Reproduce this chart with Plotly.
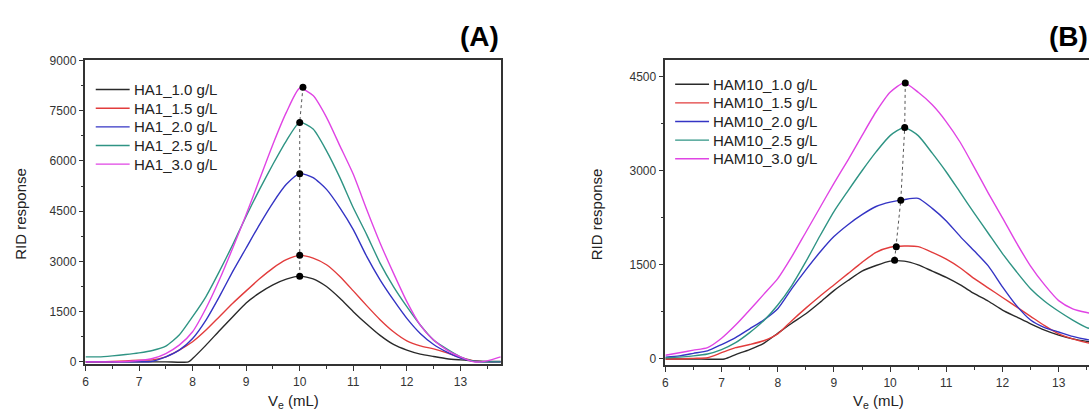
import plotly.graph_objects as go

# ---- panel A : HA1 ----
xa = [6.0, 6.25, 6.5, 6.75, 7.0, 7.25, 7.5, 7.75, 8.0, 8.25, 8.5, 8.75, 9.0, 9.25, 9.5, 9.75,
      10.0, 10.25, 10.5, 10.75, 11.0, 11.25, 11.5, 11.75, 12.0, 12.25, 12.5, 12.75, 13.0, 13.25, 13.5, 13.75]
xa_black = [6.0, 6.5, 7.0, 7.5, 7.92, 8.0, 8.25, 8.5, 8.75, 9.0, 9.25, 9.5, 9.75,
            10.0, 10.25, 10.5, 10.75, 11.0, 11.25, 11.5, 11.75, 12.0, 12.25, 12.5, 12.75, 13.0, 13.25, 13.5, 13.75]
ha1_10 = [0, 0, 0, 0, 0, 100, 500, 930, 1350, 1760, 2060, 2300, 2470,
          2560, 2480, 2250, 1900, 1500, 1130, 790, 520, 350, 230, 160, 95, 60, 30, 15, 10]
ha1_15 = [0, 0, 10, 30, 50, 60, 150, 350, 600, 950, 1350, 1750, 2120, 2480, 2800, 3050,
          3180, 3100, 2900, 2550, 2120, 1680, 1260, 900, 630, 480, 390, 270, 130, 30, 0, 0]
ha1_20 = [0, 0, 0, 0, 0, 20, 150, 350, 700, 1250, 1950, 2700, 3400, 4100, 4750, 5300,
          5620, 5500, 5150, 4600, 3950, 3150, 2450, 1850, 1300, 850, 520, 290, 110, 20, 0, 0]
ha1_25 = [150, 150, 180, 220, 270, 340, 470, 800, 1350, 1950, 2700, 3500, 4350, 5150, 5900, 6600,
          7150, 6950, 6300, 5500, 4600, 3800, 2950, 2250, 1650, 1100, 650, 380, 150, 20, 0, 0]
ha1_30 = [0, 0, 0, 10, 40, 100, 250, 500, 900, 1600, 2450, 3400, 4400, 5450, 6500, 7450,
          8170, 7950, 7300, 6450, 5600, 4550, 3550, 2650, 1800, 1100, 650, 350, 150, 0, 30, 150]
peak_x_a = [10.06, 10.0, 10.0, 10.0, 10.0]
peak_y_a = [8200, 7150, 5620, 3180, 2560]

# ---- panel B : HAM10 ----
xb = [6.0, 6.25, 6.5, 6.75, 7.0, 7.25, 7.5, 7.75, 8.0, 8.25, 8.5, 8.75, 9.0, 9.25, 9.5, 9.75,
      10.0, 10.25, 10.5, 10.75, 11.0, 11.25, 11.5, 11.75, 12.0, 12.25, 12.5, 12.75, 13.0, 13.25, 13.5, 13.75]
xb_black = [6.0, 6.5, 7.05, 7.25, 7.5, 7.75, 8.0, 8.25, 8.5, 8.75, 9.0, 9.25, 9.5, 9.75,
            10.0, 10.25, 10.5, 10.75, 11.0, 11.25, 11.5, 11.75, 12.0, 12.25, 12.5, 12.75, 13.0, 13.25, 13.5, 13.75]
ham10_10 = [0, 0, 0, 70, 150, 250, 410, 570, 720, 900, 1090, 1250, 1400, 1490,
            1560, 1560, 1500, 1400, 1300, 1180, 1040, 920, 780, 670, 560, 460, 380, 320, 280, 250]
ham10_15 = [0, 0, 10, 20, 100, 180, 230, 290, 400, 610, 810, 1000, 1180, 1360, 1540, 1700,
            1780, 1800, 1790, 1700, 1590, 1450, 1280, 1130, 980, 830, 680, 530, 400, 320, 260, 230]
ham10_20 = [30, 50, 90, 130, 230, 340, 480, 620, 800, 1120, 1420, 1700, 1950, 2140, 2300, 2430,
            2500, 2540, 2560, 2400, 2200, 1950, 1720, 1480, 1150, 850, 620, 500, 430, 360, 310, 280]
ham10_25 = [20, 30, 50, 80, 150, 260, 420, 610, 860, 1170, 1550, 1960, 2350, 2680, 3000, 3300,
            3560, 3690, 3560, 3280, 2980, 2650, 2320, 2000, 1680, 1390, 1120, 920, 760, 620, 500, 440]
ham10_30 = [60, 100, 140, 180, 330, 540, 780, 1030, 1280, 1630, 2020, 2410, 2800, 3170, 3560, 3940,
            4250, 4400, 4250, 4050, 3780, 3450, 3050, 2640, 2250, 1850, 1480, 1180, 930, 800, 740, 700]
peak_x_b = [10.27, 10.26, 10.19, 10.11, 10.08]
peak_y_b = [4400, 3690, 2530, 1790, 1575]

conc = ["1.0", "1.5", "2.0", "2.5", "3.0"]
colors = ["#2a2a2a", "#e23c3c", "#3434c4", "#2f9484", "#e044e4"]

series_a = [(xa_black, ha1_10), (xa, ha1_15), (xa, ha1_20), (xa, ha1_25), (xa, ha1_30)]
series_b = [(xb_black, ham10_10), (xb, ham10_15), (xb, ham10_20), (xb, ham10_25), (xb, ham10_30)]

fig = go.Figure()
for i, (xs, ys) in enumerate(series_a):
    fig.add_trace(go.Scatter(x=xs, y=ys, mode="lines", name=f"HA1_{conc[i]} g/L", showlegend=False,
                             line=dict(color=colors[i], width=1.4, shape="spline", smoothing=0.6),
                             xaxis="x", yaxis="y"))
for i, (xs, ys) in enumerate(series_b):
    fig.add_trace(go.Scatter(x=xs, y=ys, mode="lines", name=f"HAM10_{conc[i]} g/L", showlegend=False,
                             line=dict(color=colors[i], width=1.4, shape="spline", smoothing=0.6),
                             xaxis="x2", yaxis="y2"))

# dotted line through the peak maxima
for px_, py_, xr, yr in [(peak_x_a, peak_y_a, "x", "y"), (peak_x_b, peak_y_b, "x2", "y2")]:
    fig.add_trace(go.Scatter(x=px_, y=py_, mode="lines+markers", showlegend=False,
                             line=dict(color="#555", width=1, dash="dot"),
                             marker=dict(color="black", size=7), xaxis=xr, yaxis=yr))

W, H = 1089, 419
axis_common = dict(showline=True, linecolor="#333", linewidth=1.5, ticks="outside", ticklen=5,
                   tickcolor="#333", showgrid=False, zeroline=False,
                   tickfont=dict(size=12, color="#333"))

fig.update_layout(
    width=W, height=H, margin=dict(l=0, r=0, t=0, b=0),
    paper_bgcolor="white", plot_bgcolor="white", showlegend=False,
    font=dict(family="Liberation Sans, Arial, sans-serif", color="#222"),
    xaxis=dict(domain=[82.7 / W, 499.5 / W], range=[6, 13.76], dtick=1, mirror=True,
               minor=dict(dtick=0.5, ticks="outside", ticklen=3, tickcolor="#333"),
               anchor="y", **axis_common),
    yaxis=dict(domain=[(H - 368) / H, (H - 55) / H], range=[-77, 9000],
               tickvals=[0, 1500, 3000, 4500, 6000, 7500, 9000], mirror=True,
               minor=dict(dtick=750, ticks="outside", ticklen=3, tickcolor="#333"),
               anchor="x", **axis_common),
    xaxis2=dict(domain=[664.2 / W, 1.0], range=[6, 13.54], dtick=1, mirror=True,
                minor=dict(dtick=0.5, ticks="outside", ticklen=3, tickcolor="#333"),
                anchor="y2", **axis_common),
    yaxis2=dict(domain=[(H - 369) / H, (H - 55) / H], range=[-103, 4758], tickvals=[0, 1500, 3000, 4500],
                minor=dict(dtick=750, ticks="outside", ticklen=3, tickcolor="#333"),
                anchor="x2", **axis_common),
)

# hand-placed legends (line sample + label), tighter row spacing than plotly's legend
legend_specs = [("HA1", 93, 127, 129, 85), ("HAM10", 674, 708, 710, 79.5)]
row_gap = 19.2
for prefix, x0, x1, xt, y0 in legend_specs:
    for i, c in enumerate(conc):
        yy = (H - (y0 + i * row_gap)) / H
        fig.add_shape(type="line", xref="paper", yref="paper", x0=x0 / W, x1=x1 / W, y0=yy, y1=yy,
                      line=dict(color=colors[i], width=1.4))
        fig.add_annotation(xref="paper", yref="paper", x=xt / W, y=yy, xanchor="left", yanchor="middle",
                           text=f"{prefix}_{c} g/L", showarrow=False, font=dict(size=15, color="#222"))

annotations = [
    dict(text="<b>(A)</b>", x=456 / W, y=(H - 30) / H, xanchor="left", yanchor="middle", font=dict(size=28, color="black")),
    dict(text="<b>(B)</b>", x=1047 / W, y=(H - 30) / H, xanchor="left", yanchor="middle", font=dict(size=28, color="black")),
    dict(text="RID response", x=18 / W, y=(H - 213) / H, textangle=-90, xanchor="center", yanchor="middle", font=dict(size=15)),
    dict(text="RID response", x=596 / W, y=(H - 213) / H, textangle=-90, xanchor="center", yanchor="middle", font=dict(size=15)),
    dict(text="V<sub>e</sub> (mL)", x=291 / W, y=(H - 406) / H, xanchor="center", yanchor="middle", font=dict(size=15)),
    dict(text="V<sub>e</sub> (mL)", x=878 / W, y=(H - 406) / H, xanchor="center", yanchor="middle", font=dict(size=15)),
]
for a in annotations:
    fig.add_annotation(xref="paper", yref="paper", showarrow=False, **a)

# drop the browser's default body margin so the figure sits at the page origin
fig.write_html("out.html", config={"displayModeBar": False},
               post_script="document.body.style.margin='0px';document.body.style.overflow='hidden';")
